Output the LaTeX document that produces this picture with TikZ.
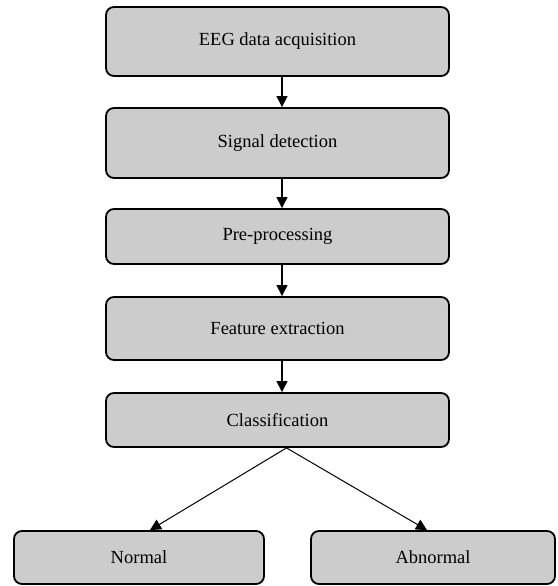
\documentclass[tikz,border=0pt]{standalone}
\usepackage{fontspec}
\setmainfont{Liberation Serif}
\usepackage{tikz}
\usetikzlibrary{arrows.meta}

\begin{document}
\begin{tikzpicture}[x=1pt, y=-1pt,
    stage/.style={draw, line width=1.8pt, fill={rgb,255:red,204;green,204;blue,204},
        rounded corners=8pt, minimum width=343pt, inner sep=0pt,
        font=\fontsize{18.5}{21}\selectfont},
    flow/.style={line width=1.3pt, -{Triangle[width=11pt,length=11pt]}}]
            \useasboundingbox (0,0) rectangle (557,586);
            \node[stage, minimum height=69pt] (acq) at (277.5,41.5) {EEG data acquisition};
            \node[stage, minimum height=70pt] (det) at (277.5,143) {Signal detection};
            \node[stage, minimum height=55pt] (pre) at (277.5,236.5) {Pre-processing};
            \node[stage, minimum height=63pt] (feat) at (277.5,328.5) {Feature extraction};
            \node[stage, minimum height=54pt] (cls) at (277.5,420) {Classification};
            \node[stage, minimum width=250pt, minimum height=53pt] (norm) at (139,557.5) {Normal};
            \node[stage, minimum width=244pt, minimum height=53pt] (abn) at (433,557.5) {Abnormal};
            \draw[flow] ([xshift=4.5pt]acq.south) -- ([xshift=4.5pt]det.north);
            \draw[flow] ([xshift=4.5pt]det.south) -- ([xshift=4.5pt]pre.north);
            \draw[flow] ([xshift=4.5pt]pre.south) -- ([xshift=4.5pt]feat.north);
            \draw[flow] ([xshift=4.5pt]feat.south) -- ([xshift=4.5pt]cls.north);
            \draw[flow, line width=1pt] ([xshift=9pt]cls.south) -- ([xshift=11pt]norm.north);
            \draw[flow, line width=1pt] ([xshift=9pt]cls.south) -- ([xshift=-6pt]abn.north);
        \end{tikzpicture}
\end{document}
